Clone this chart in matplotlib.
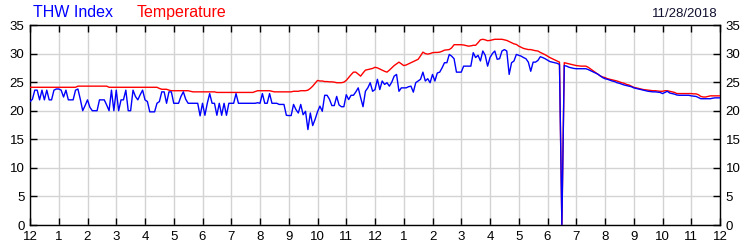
import numpy as np
import matplotlib
matplotlib.use("Agg")
import matplotlib.pyplot as plt

plt.rcParams['font.family'] = ['Liberation Sans', 'DejaVu Sans']

# readings every 5 minutes, midnight to midnight (one row per hour)
thw_index = [
    21.6, 22.0, 23.6, 23.6, 21.9, 23.6, 21.9, 23.6, 21.9, 21.9, 23.6, 23.8,
    23.8, 23.6, 22.4, 23.6, 21.9, 21.9, 21.9, 23.6, 23.8, 22.0, 20.0, 20.9,
    21.9, 20.6, 20.0, 20.0, 20.0, 21.9, 21.9, 21.9, 21.0, 20.0, 23.6, 20.0,
    23.6, 20.0, 21.9, 21.9, 23.6, 20.0, 20.0, 23.6, 22.5, 21.9, 22.8, 23.6,
    21.9, 21.6, 19.8, 19.8, 19.8, 21.3, 21.6, 23.3, 23.3, 21.3, 23.3, 23.3,
    21.3, 21.3, 21.3, 22.5, 23.3, 22.0, 21.3, 21.3, 21.3, 21.3, 21.3, 19.1,
    21.3, 19.2, 21.3, 23.0, 21.3, 21.3, 19.2, 21.3, 19.2, 21.3, 19.2, 21.3,
    21.3, 21.3, 23.0, 21.3, 21.3, 21.3, 21.3, 21.3, 21.3, 21.3, 21.3, 21.4,
    21.3, 23.0, 21.3, 21.3, 23.0, 21.3, 21.3, 21.3, 21.1, 21.1, 21.1, 19.2,
    19.15, 19.15, 21.1, 20.2, 19.6, 21.1, 19.3, 19.9, 16.7, 19.6, 17.4, 18.5,
    19.8, 20.8, 19.9, 22.7, 22.7, 22.0, 20.9, 20.9, 22.5, 21.0, 20.7, 20.7,
    22.8, 21.95, 22.7, 22.7, 23.3, 24.0, 22.3, 20.7, 23.4, 24.0, 24.9, 23.4,
    23.7, 25.5, 23.7, 25.2, 24.6, 24.9, 24.3, 25.0, 26.05, 26.35, 23.4, 24.0,
    24.0, 24.0, 24.2, 24.3, 23.25, 24.9, 25.2, 25.5, 26.75, 25.2, 25.6, 24.9,
    26.35, 25.2, 26.6, 26.75, 27.5, 28.4, 28.4, 29.85, 29.55, 29.1, 26.75, 26.75,
    26.75, 27.8, 27.8, 27.8, 27.8, 30.15, 29.3, 29.7, 28.7, 30.45, 29.7, 27.8,
    29.3, 30.0, 30.45, 29.0, 29.1, 30.45, 30.7, 30.45, 26.35, 28.4, 28.7, 29.85,
    29.7, 29.55, 29.3, 29.1, 28.5, 26.9, 28.5, 28.5, 28.8, 29.45, 29.3, 29.1,
    28.85, 28.6, 28.5, 28.4, 28.3, 28.1, 0.0, 27.9, 27.8, 27.6, 27.5, 27.4,
    27.35, 27.35, 27.35, 27.35, 27.35, 27.2, 27.0, 26.8, 26.6, 26.4, 26.1, 25.8,
    25.6, 25.5, 25.35, 25.2, 25.1, 24.9, 24.8, 24.65, 24.5, 24.4, 24.3, 24.2,
    24.0, 23.9, 23.8, 23.7, 23.6, 23.5, 23.4, 23.35, 23.3, 23.3, 23.25, 23.2,
    23.0, 23.2, 23.4, 23.1, 23.0, 22.9, 22.75, 22.7, 22.7, 22.7, 22.7, 22.7,
    22.6, 22.55, 22.5, 22.3, 22.1, 22.1, 22.1, 22.1, 22.1, 22.2, 22.25, 22.25,
    22.25,
]

temperature = [
    24.1, 24.1, 24.1, 24.1, 24.1, 24.1, 24.1, 24.1, 24.1, 24.1, 24.1, 24.1,
    24.1, 24.1, 24.1, 24.1, 24.1, 24.1, 24.1, 24.1, 24.3, 24.3, 24.3, 24.3,
    24.3, 24.3, 24.3, 24.3, 24.3, 24.3, 24.3, 24.3, 24.3, 24.1, 24.1, 24.1,
    24.1, 24.1, 24.1, 24.1, 24.1, 24.1, 24.1, 24.1, 24.1, 24.1, 24.1, 24.1,
    24.1, 24.1, 24.1, 24.1, 24.1, 24.1, 23.9, 23.75, 23.75, 23.75, 23.6, 23.5,
    23.5, 23.5, 23.5, 23.5, 23.5, 23.5, 23.5, 23.4, 23.3, 23.3, 23.3, 23.3,
    23.3, 23.3, 23.3, 23.3, 23.3, 23.3, 23.2, 23.2, 23.2, 23.2, 23.2, 23.2,
    23.2, 23.2, 23.2, 23.2, 23.2, 23.2, 23.2, 23.2, 23.2, 23.2, 23.35, 23.5,
    23.5, 23.5, 23.5, 23.5, 23.5, 23.4, 23.3, 23.3, 23.3, 23.3, 23.3, 23.3,
    23.3, 23.3, 23.4, 23.4, 23.4, 23.5, 23.5, 23.5, 23.6, 23.9, 24.3, 24.8,
    25.3, 25.2, 25.2, 25.1, 25.1, 25.05, 25.05, 25.0, 24.9, 24.9, 24.9, 25.0,
    25.3, 25.8, 26.3, 26.75, 26.75, 26.4, 26.05, 26.6, 27.1, 27.2, 27.3, 27.4,
    27.6, 27.5, 27.3, 27.1, 26.9, 26.75, 27.1, 27.5, 27.9, 28.2, 28.5, 28.2,
    27.9, 28.0, 28.2, 28.4, 28.6, 28.8, 29.0, 29.6, 30.25, 30.0, 29.9, 30.0,
    30.15, 30.2, 30.2, 30.25, 30.4, 30.6, 30.65, 30.7, 31.0, 31.55, 31.55, 31.55,
    31.55, 31.5, 31.4, 31.3, 31.35, 31.45, 31.45, 31.9, 32.4, 32.5, 32.4, 32.25,
    32.3, 32.4, 32.5, 32.5, 32.5, 32.5, 32.4, 32.3, 32.1, 31.9, 31.7, 31.6,
    31.3, 31.1, 30.9, 30.8, 30.7, 30.7, 30.6, 30.5, 30.45, 30.2, 30.0, 29.8,
    29.55, 29.3, 29.1, 28.9, 28.7, 28.5, 0.0, 28.4, 28.3, 28.2, 28.1, 28.0,
    27.9, 27.85, 27.8, 27.8, 27.8, 27.6, 27.3, 27.0, 26.7, 26.4, 26.1, 25.9,
    25.8, 25.6, 25.5, 25.4, 25.3, 25.2, 25.05, 24.9, 24.8, 24.6, 24.5, 24.3,
    24.1, 24.0, 23.9, 23.8, 23.7, 23.65, 23.6, 23.55, 23.5, 23.5, 23.45, 23.4,
    23.4, 23.5, 23.5, 23.4, 23.3, 23.2, 23.0, 23.0, 23.0, 23.0, 23.0, 23.0,
    23.0, 22.95, 22.95, 22.8, 22.5, 22.4, 22.4, 22.5, 22.6, 22.6, 22.6, 22.6,
    22.6,
]

hour_labels = ['12', '1', '2', '3', '4', '5', '6', '7', '8', '9', '10', '11'] * 2 + ['12']
y_ticks = [0, 5, 10, 15, 20, 25, 30, 35]
date_text = '11/28/2018'

hours = np.arange(len(thw_index)) / 12.0

fig = plt.figure(figsize=(7.5, 2.5), dpi=100)
ax = fig.add_axes([30 / 750, 25 / 250, 690 / 750, 200 / 250])

ax.plot(hours, temperature, color='#ff0000', linewidth=1.0, zorder=3)
ax.plot(hours, thw_index, color='#0000ff', linewidth=1.0, zorder=4)

ax.set_xlim(0, 24)
ax.set_ylim(0, 35)
ax.set_xticks(np.arange(25))
ax.set_xticklabels(hour_labels)
ax.set_yticks(y_ticks)
ax.grid(True, color='#d3d3d3', linewidth=1.0, zorder=0)
ax.set_axisbelow(True)

ax.tick_params(axis='both', direction='in', length=5, width=1, colors='black',
               labelsize=9.5, pad=4)
ax.tick_params(axis='x', top=True, labeltop=False)
ax.tick_params(axis='y', right=True, labelright=True)
for s in ax.spines.values():
    s.set_color('black')
    s.set_linewidth(1.0)

fig.text(33 / 750, 1 - 17 / 250, 'THW Index', color='#0000ff', fontsize=11.5, va='baseline')
fig.text(137 / 750, 1 - 17 / 250, 'Temperature', color='#ff0000', fontsize=11.5, va='baseline')
fig.text(718 / 750, 1 - 17 / 250, date_text, color='#101030', fontsize=9.5,
         va='baseline', ha='right')

fig.savefig('out.png', dpi=100)
